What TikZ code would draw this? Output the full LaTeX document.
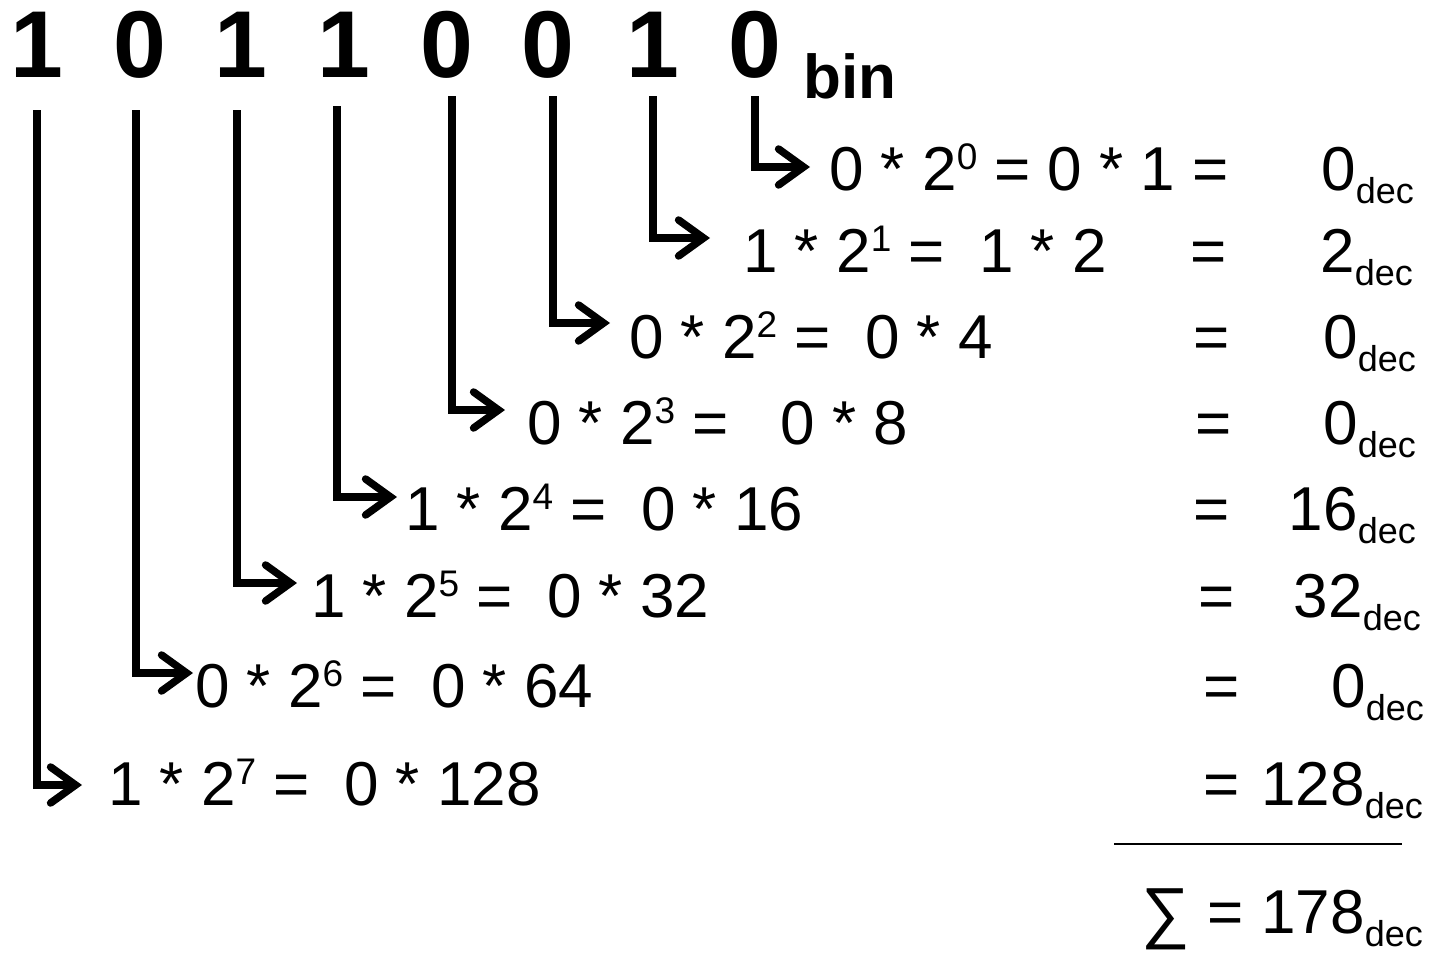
\documentclass[tikz,border=0pt]{standalone}
\usepackage{fontspec}
\setmainfont{Liberation Sans}
\usetikzlibrary{arrows.meta}
\newcommand{\sups}[1]{\raisebox{21pt}{\fontsize{37}{37}\selectfont #1}}
\newcommand{\subdec}{\raisebox{-13pt}{\fontsize{36}{36}\selectfont dec}}
\begin{document}
\begin{tikzpicture}[x=1pt,y=-1pt,
  eq/.style={inner sep=0pt, anchor=base west, font=\fontsize{62}{62}\selectfont},
  val/.style={inner sep=0pt, anchor=base east, font=\fontsize{62}{62}\selectfont},
  bit/.style={inner sep=0pt, anchor=base, font=\fontsize{95}{95}\selectfont\bfseries},
  conn/.style={line width=7.5pt, -{Straight Barb[length=25pt,width=36pt,line cap=round]}},
  rule/.style={line width=2pt}]
\useasboundingbox (0,0) rectangle (1440,953);
% binary digits
\node[bit] (d1) at (37,77) {1};
\node[bit] (d2) at (140,77) {0};
\node[bit] (d3) at (241,77) {1};
\node[bit] (d4) at (344,77) {1};
\node[bit] (d5) at (447,77) {0};
\node[bit] (d6) at (548,77) {0};
\node[bit] (d7) at (653,77) {1};
\node[bit] (d8) at (755,77) {0};
\node[inner sep=0pt, anchor=base west, font=\fontsize{62}{62}\selectfont\bfseries] (bin) at (803,98) {bin};
% expressions
\node[eq] (e0) at (829,190) {0 * 2\sups{0} = 0 * 1 =};
\node[eq] (e1) at (743,272) {1 * 2\sups{1} = \ 1 * 2};
\node[eq] (e2) at (629,358) {0 * 2\sups{2} = \ 0 * 4};
\node[eq] (e3) at (527,444) {0 * 2\sups{3} = \ \ 0 * 8};
\node[eq] (e4) at (405,530) {1 * 2\sups{4} = \ 0 * 16};
\node[eq] (e5) at (311,617) {1 * 2\sups{5} = \ 0 * 32};
\node[eq] (e6) at (195,707) {0 * 2\sups{6} = \ 0 * 64};
\node[eq] (e7) at (108,805) {1 * 2\sups{7} = \ 0 * 128};
% equals signs
\node[eq] (q1) at (1190,272) {=};
\node[eq] (q2) at (1193,358) {=};
\node[eq] (q3) at (1195,444) {=};
\node[eq] (q4) at (1193,530) {=};
\node[eq] (q5) at (1198,617) {=};
\node[eq] (q6) at (1203,707) {=};
\node[eq] (q7) at (1203,805) {=};
% values
\node[val] (v0) at (1414,190) {0\subdec};
\node[val] (v1) at (1413,272) {2\subdec};
\node[val] (v2) at (1416,358) {0\subdec};
\node[val] (v3) at (1416,444) {0\subdec};
\node[val] (v4) at (1416,530) {16\subdec};
\node[val] (v5) at (1421,617) {32\subdec};
\node[val] (v6) at (1424,707) {0\subdec};
\node[val] (v7) at (1423,805) {128\subdec};
% sum
\coordinate (r1) at (1114,844);
\coordinate (r2) at (1402,844);
\draw[rule] (r1) -- (r2);
\node[val] (sum) at (1423,933) {= 178\subdec};
\node[inner sep=0pt, anchor=center, font=\fontsize{68}{68}\selectfont] (sig) at (1166,919) {∑};
% connectors
\coordinate (s1) at (37,110);  \coordinate (t1) at (82,785);
\coordinate (s2) at (136,110); \coordinate (t2) at (193,673);
\coordinate (s3) at (237,110); \coordinate (t3) at (297,583);
\coordinate (s4) at (337,106); \coordinate (t4) at (397,497);
\coordinate (s5) at (452,96);  \coordinate (t5) at (505,410);
\coordinate (s6) at (553,96);  \coordinate (t6) at (610,323);
\coordinate (s7) at (653,96);  \coordinate (t7) at (710,238);
\coordinate (s8) at (755,96);  \coordinate (t8) at (810,167);
\foreach \i in {1,...,8} {\draw[conn] (s\i) |- (t\i);}
\end{tikzpicture}
\end{document}
